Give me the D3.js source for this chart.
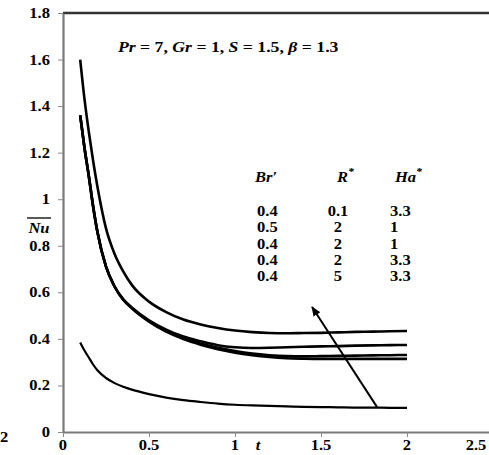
<!DOCTYPE html>
<html><head><meta charset="utf-8">
<script src="https://cdn.jsdelivr.net/npm/d3@7"></script>
<style>html,body{margin:0;padding:0;background:#fff;overflow:hidden}
text{font-family:"Liberation Serif","Times New Roman","DejaVu Serif",serif;}</style>
</head><body>
<svg id="c" width="489" height="455"></svg>
<script>
// ---- data ----
const tValues = [0.1,0.125,0.15,0.175,0.2,0.25,0.3,0.35,0.4,0.5,0.6,0.7,0.8,0.9,1.0,1.1,1.2,1.3,1.4,1.5,1.6,1.7,1.8,1.9,2.0];
const nuA  = [1.60,1.43,1.29,1.165,1.055,0.875,0.765,0.69,0.632,0.56,0.515,0.483,0.462,0.447,0.436,0.429,0.425,0.424,0.425,0.426,0.428,0.430,0.431,0.433,0.434];
const nuB1 = [1.36,1.22,1.10,0.97,0.86,0.71,0.625,0.57,0.535,0.48,0.44,0.41,0.39,0.373,0.364,0.361,0.362,0.364,0.366,0.368,0.369,0.371,0.372,0.373,0.374];
const nuB2 = [1.36,1.22,1.10,0.97,0.86,0.71,0.625,0.57,0.533,0.477,0.435,0.403,0.38,0.362,0.348,0.337,0.33,0.326,0.325,0.326,0.327,0.328,0.329,0.330,0.331];
const nuB3 = [1.36,1.22,1.10,0.97,0.86,0.71,0.624,0.568,0.531,0.474,0.431,0.399,0.375,0.356,0.341,0.33,0.322,0.317,0.315,0.314,0.314,0.314,0.314,0.314,0.314];
const nuC  = [0.385,0.35,0.32,0.29,0.265,0.232,0.21,0.194,0.182,0.163,0.148,0.137,0.129,0.122,0.117,0.114,0.112,0.110,0.108,0.107,0.106,0.105,0.105,0.104,0.104];
const seriesList = [nuA, nuB1, nuB2, nuB3, nuC];

const xTicks = [0,0.5,1,1.5,2,2.5];
const yTicks = [0,0.2,0.4,0.6,0.8,1,1.2,1.4,1.6,1.8];

const legendBr = ["0.4","0.5","0.4","0.4","0.4"];
const legendR  = ["0.1","2","2","2","5"];
const legendHa = ["3.3","1","1","3.3","3.3"];

const arrowFrom = [1.826, 0.107];
const arrowTo   = [1.448, 0.537];

// ---- layout ----
const svg = d3.select('#c');
const x = d3.scaleLinear().domain([0,2.5]).range([63,493]);
const y = d3.scaleLinear().domain([0,1.8]).range([432,13]);
const SX = 1.18;

function label(px, py, s, o={}) {
  const t = svg.append('text')
    .attr('transform', `translate(${px},${py}) scale(${o.sx||SX},1)`)
    .attr('text-anchor', o.anchor||'start')
    .attr('font-size', o.size||14)
    .attr('font-weight', 'bold')
    .attr('font-style', o.italic?'italic':'normal')
    .attr('fill', '#000');
  if (s !== null) t.text(s);
  return t;
}

// top border
svg.append('line').attr('x1', 63).attr('x2', 495).attr('y1', y(1.8)).attr('y2', y(1.8))
  .attr('stroke', '#333').attr('stroke-width', 2.5);

// axes
const gx = svg.append('g').attr('transform', `translate(0,${y(0)})`)
  .call(d3.axisBottom(x).tickValues(xTicks).tickSize(5).tickSizeOuter(0).tickFormat(''));
const gy = svg.append('g').attr('transform', `translate(${x(0)},0)`)
  .call(d3.axisLeft(y).tickValues(yTicks).tickSize(5).tickSizeOuter(0).tickFormat(''));
[gx, gy].forEach(g => {
  g.select('.domain').attr('stroke', '#7a7a7a').attr('stroke-width', 2.2);
  g.selectAll('.tick line').attr('stroke', '#8a8a8a').attr('stroke-width', 1);
});

// tick labels
const fmt = d3.format('~g');
yTicks.forEach(v => label(50, y(v) + 5, fmt(v), {anchor:'end'}));
xTicks.forEach(v => label(Math.min(x(v), 476), 450, fmt(v), {anchor:'middle'}));
// stray label fragment at far left
label(0, 442, '2');

// axis titles
label(258, 450, 't', {italic:true, anchor:'middle'});
label(39, 233, 'Nu', {italic:true, anchor:'middle'});
svg.append('line').attr('x1', 27).attr('x2', 51).attr('y1', 218).attr('y2', 218)
  .attr('stroke', '#000').attr('stroke-width', 1.3);

// curves
const line = d3.line().x((d,i)=>x(tValues[i])).y(d=>y(d)).curve(d3.curveMonotoneX);
seriesList.forEach((s, k) => {
  svg.append('path').attr('d', line(s)).attr('fill', 'none')
    .attr('stroke', '#000').attr('stroke-width', k === 4 ? 2.2 : 2.6);
});

// arrow
svg.append('defs').append('marker').attr('id', 'ah')
  .attr('viewBox', '0 0 10 10').attr('refX', 9).attr('refY', 5)
  .attr('markerWidth', 5).attr('markerHeight', 5).attr('orient', 'auto')
  .append('path').attr('d', 'M0,1 L10,5 L0,9 Z').attr('fill', '#000');
svg.append('line')
  .attr('x1', x(arrowFrom[0])).attr('y1', y(arrowFrom[1]))
  .attr('x2', x(arrowTo[0])).attr('y2', y(arrowTo[1]))
  .attr('stroke', '#000').attr('stroke-width', 2).attr('marker-end', 'url(#ah)');

// annotation
const ann = label(118, 52, null, {size:15});
[['Pr',1],[' = 7, ',0],['Gr',1],[' = 1, ',0],['S',1],[' = 1.5, ',0],['β',1],[' = 1.3',0]]
  .forEach(([s,it]) => ann.append('tspan').attr('font-style', it?'italic':'normal').text(s));

// legend header
const h1 = label(255, 182, null, {italic:true});
h1.append('tspan').text('Br');
h1.append('tspan').text('′');
const h2 = label(337, 182, null, {italic:true});
h2.append('tspan').text('R');
h2.append('tspan').attr('dy', -7).attr('font-size', 10).text('*');
const h3 = label(395, 182, null, {italic:true});
h3.append('tspan').text('Ha');
h3.append('tspan').attr('dy', -7).attr('font-size', 10).text('*');

// legend rows
legendBr.forEach((v, i) => {
  const by = 216 + i * 16.3;
  label(257, by, v);
  label(338, by, legendR[i], {anchor:'middle'});
  label(390, by, legendHa[i]);
});
</script>
</body></html>
